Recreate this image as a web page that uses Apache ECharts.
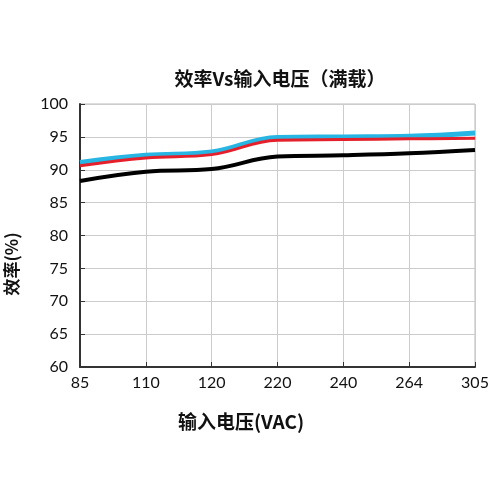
<!DOCTYPE html>
<html><head><meta charset="utf-8">
<script src="https://cdn.jsdelivr.net/npm/echarts@6/dist/echarts.min.js"></script>
<style>html,body{margin:0;padding:0;background:#fff}#c{width:500px;height:500px}</style>
</head><body><div id="c"></div>
<script>
const categories = ['85','110','120','220','240','264','305'];
const cyanValues = [91.1, 92.2, 92.7, 94.9, 95.0, 95.1, 95.6];
const redValues = [90.6, 91.8, 92.3, 94.5, 94.6, 94.7, 94.8];
const blackValues = [88.3, 89.7, 90.1, 92.0, 92.2, 92.5, 93.0];
const yTicks = [60, 65, 70, 75, 80, 85, 90, 95, 100];

const chart = echarts.init(document.getElementById('c'));
const font = 'Lato, "Noto Sans CJK SC", sans-serif';
chart.setOption({
  backgroundColor: '#fff',
  animation: false,
  graphic: [{
    type: 'text', x: 280, y: 79,
    style: {text: '效率Vs输入电压（满载）', fill: '#111',
      font: 'bold 19px "Noto Sans CJK SC", sans-serif', align: 'center', verticalAlign: 'middle'}
  }, {
    type: 'text', x: 12, y: 264, rotation: Math.PI / 2,
    style: {text: '效率(%)', fill: '#111',
      font: 'bold 17px "Noto Sans CJK SC", sans-serif', align: 'center', verticalAlign: 'middle'}
  }, {
    type: 'text', x: 241, y: 422,
    style: {text: '输入电压(VAC)', fill: '#111',
      font: 'bold 19px "Noto Sans CJK SC", sans-serif', align: 'center', verticalAlign: 'middle'}
  }],
  grid: {left: 80, right: 25, top: 104, bottom: 133, show: true, borderColor: '#bbb', borderWidth: 1},
  xAxis: {
    type: 'category', data: categories, boundaryGap: false,
    axisLine: {lineStyle: {color: '#333', width: 2}},
    axisTick: {inside: true, length: 5, lineStyle: {color: '#333'}},
    axisLabel: {fontSize: 16, color: '#111', margin: 8, fontFamily: font},
    splitLine: {show: true, lineStyle: {color: '#ccc', width: 1}}
  },
  yAxis: {
    type: 'value', min: 60, max: 100, interval: 5,
    axisLine: {show: true, lineStyle: {color: '#333', width: 2}},
    axisTick: {show: true, inside: true, length: 5, lineStyle: {color: '#333'}},
    axisLabel: {fontSize: 16, color: '#111', margin: 12, fontFamily: font,
      formatter: v => yTicks.includes(v) ? String(v) : ''},
    splitLine: {show: true, lineStyle: {color: '#ccc', width: 1}}
  },
  series: [
    {type: 'line', data: cyanValues, smooth: 0.4, symbol: 'none', lineStyle: {color: '#27b5e3', width: 5}, z: 2},
    {type: 'line', data: redValues, smooth: 0.4, symbol: 'none', lineStyle: {color: '#e5202b', width: 3}, z: 3},
    {type: 'line', data: blackValues, smooth: 0.4, symbol: 'none', lineStyle: {color: '#000', width: 4}, z: 4}
  ]
});
</script></body></html>
